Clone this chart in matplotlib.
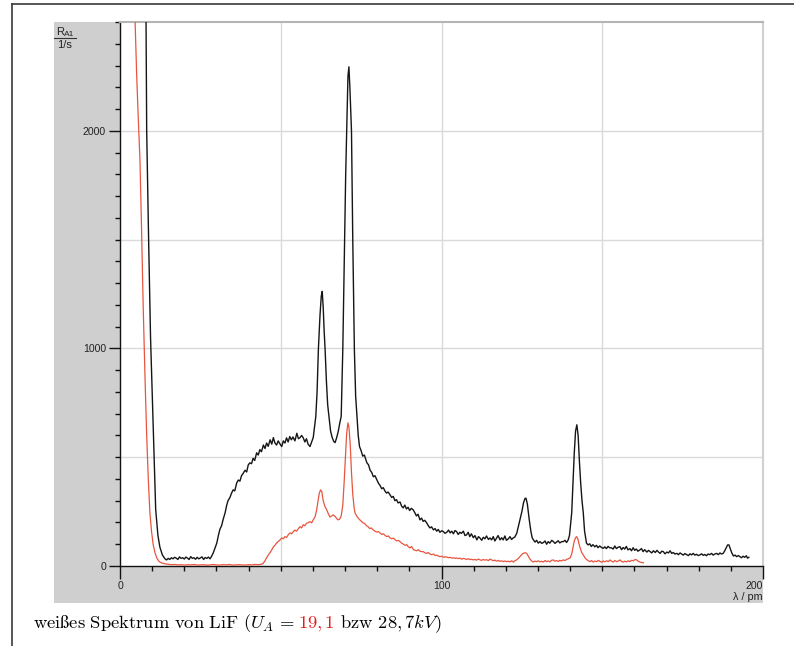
import matplotlib
matplotlib.use("Agg")
import matplotlib.pyplot as plt
from matplotlib.patches import Rectangle
from matplotlib.lines import Line2D
from matplotlib.ticker import MultipleLocator, FixedLocator

plt.rcParams['mathtext.fontset'] = 'cm'
plt.rcParams['font.family'] = ['Liberation Sans', 'DejaVu Sans']

# ---- data: 28.7 kV (black) ----
black_wl = [7.9, 8.1, 8.3, 8.9, 9.5, 9.9, 10.6, 11.1, 11.8, 12.4, 13.2, 14.0, 14.5, 15.0, 15.5, 16.0, 16.5, 17.0, 17.5, 18.0,
            18.5, 19.0, 19.5, 20.0, 20.5, 21.0, 21.5, 22.0, 22.5, 23.0, 23.5, 24.0, 24.5, 25.0, 25.5, 26.0, 26.5, 27.0, 27.5, 28.0,
            28.5, 29.0, 29.5, 30.1, 30.6, 31.1, 31.6, 32.1, 32.7, 33.2, 33.6, 34.2, 34.7, 35.2, 35.7, 36.3, 36.8, 37.3, 37.8, 38.4,
            38.9, 39.4, 39.9, 40.4, 40.9, 41.4, 41.9, 42.5, 43.0, 43.5, 44.0, 44.6, 45.1, 45.6, 46.1, 46.7, 47.2, 47.7, 48.2, 48.7,
            49.2, 49.8, 50.3, 50.8, 51.3, 51.8, 52.3, 52.8, 53.3, 53.8, 54.4, 55.0, 55.5, 56.0, 56.5, 57.0, 57.5, 58.0, 58.5, 59.1,
            59.6, 60.1, 60.5, 60.9, 61.3, 61.7, 62.2, 62.6, 62.9, 63.2, 63.5, 63.8, 64.2, 64.6, 65.0, 65.5, 66.0, 66.5, 66.9, 67.4,
            67.9, 68.4, 68.8, 69.3, 69.8, 70.2, 70.5, 70.9, 71.2, 71.5, 72.0, 72.4, 72.9, 73.3, 73.7, 74.1, 74.5, 75.0, 75.5, 76.0,
            76.8, 77.3, 77.8, 78.3, 78.8, 79.3, 79.9, 80.4, 80.9, 81.4, 81.9, 82.4, 82.9, 83.4, 84.0, 84.5, 85.0, 85.5, 86.0, 86.5,
            87.1, 87.6, 88.1, 88.6, 89.1, 89.6, 90.1, 90.6, 91.2, 91.7, 92.2, 92.7, 93.3, 93.8, 94.3, 94.8, 95.4, 95.9, 96.4, 96.9,
            97.5, 98.0, 98.5, 99.0, 99.5, 100.1, 100.6, 101.1, 101.7, 102.2, 102.7, 103.2, 103.7, 104.2, 104.7, 105.2, 105.7, 106.2, 106.8, 107.3,
            107.8, 108.3, 108.8, 109.3, 109.9, 110.4, 111.0, 111.5, 112.0, 112.5, 113.0, 113.5, 114.0, 114.6, 115.1, 115.6, 116.1, 116.6, 117.1, 117.6,
            118.2, 118.7, 119.2, 119.7, 120.2, 120.8, 121.3, 121.8, 122.3, 122.8, 123.4, 123.9, 124.4, 125.0, 125.5, 126.0, 126.3, 126.7, 127.3, 127.8,
            128.2, 128.6, 129.1, 129.6, 130.1, 130.6, 131.2, 131.7, 132.2, 132.7, 133.2, 133.7, 134.3, 134.8, 135.3, 135.8, 136.3, 136.8, 137.4, 137.9,
            138.4, 138.9, 139.4, 139.8, 140.2, 140.5, 140.9, 141.3, 141.7, 142.1, 142.5, 142.9, 143.3, 143.7, 144.1, 144.5, 145.1, 145.6, 146.1, 146.6,
            147.1, 147.7, 148.2, 148.7, 149.2, 149.7, 150.3, 150.8, 151.3, 151.8, 152.3, 152.9, 153.4, 153.9, 154.4, 154.9, 155.5, 156.0, 156.5, 157.0,
            157.5, 158.0, 158.6, 159.1, 159.6, 160.1, 160.6, 161.1, 161.7, 162.2, 162.7, 163.2, 163.9, 164.4, 164.9, 165.4, 165.9, 166.5, 167.0, 167.5,
            168.0, 168.5, 169.0, 169.5, 170.1, 170.6, 171.1, 171.6, 172.1, 172.6, 173.2, 173.7, 174.2, 174.7, 175.2, 175.7, 176.2, 176.8, 177.3, 177.8,
            178.3, 178.8, 179.3, 179.8, 180.4, 180.9, 181.4, 181.9, 182.4, 182.9, 183.4, 184.0, 184.5, 185.0, 185.6, 186.1, 186.6, 187.1, 187.6, 188.1,
            188.6, 189.0, 189.4, 189.8, 190.3, 190.8, 191.3, 191.8, 192.3, 192.8, 193.3, 193.8, 194.3, 194.8, 195.2, 195.6]
black_rate = [2900, 2500, 2000, 1500, 1050, 850, 500, 260, 140, 87, 50, 33, 28, 35, 30, 38, 33, 40, 36, 30,
              42, 35, 38, 32, 41, 36, 30, 43, 35, 38, 31, 40, 33, 37, 42, 30, 39, 35, 41, 33,
              45, 60, 80, 105, 140, 170, 185, 215, 245, 280, 300, 315, 335, 350, 345, 382, 395, 390, 415, 428,
              440, 432, 465, 474, 470, 495, 485, 520, 510, 535, 525, 556, 540, 565, 550, 580, 560, 590, 565, 556,
              575, 560, 549, 575, 565, 589, 570, 595, 580, 593, 575, 610, 585, 590, 600, 589, 570, 585, 560, 549,
              570, 590, 640, 687, 800, 994, 1150, 1240, 1262, 1190, 1080, 994, 850, 740, 687, 620, 590, 572, 567, 590,
              620, 660, 687, 994, 1450, 1800, 2000, 2250, 2294, 2200, 2000, 1500, 994, 780, 687, 600, 549, 530, 505, 510,
              474, 465, 440, 430, 410, 415, 396, 380, 370, 355, 360, 345, 335, 340, 327, 315, 320, 300, 305, 290,
              294, 275, 267, 280, 262, 270, 255, 265, 258, 245, 230, 238, 212, 220, 205, 210, 198, 185, 175, 180,
              166, 172, 160, 168, 155, 162, 158, 150, 156, 165, 152, 160, 148, 163, 158, 145, 155, 150, 160, 140,
              143, 155, 135, 148, 130, 140, 120, 135, 128, 118, 132, 125, 138, 122, 129, 120, 135, 115, 128, 140,
              120, 130, 120, 138, 118, 125, 135, 122, 129, 133, 150, 181, 212, 250, 290, 311, 311, 285, 212, 160,
              130, 120, 110, 118, 105, 112, 104, 108, 115, 100, 112, 105, 118, 112, 104, 110, 116, 106, 112, 112,
              118, 108, 120, 140, 200, 244, 380, 520, 620, 649, 600, 480, 380, 300, 244, 160, 105, 97, 102, 90,
              98, 88, 95, 84, 92, 86, 81, 88, 80, 90, 84, 83, 78, 92, 80, 86, 89, 75, 85, 78,
              90, 74, 80, 70, 84, 72, 78, 68, 74, 80, 66, 75, 64, 72, 66, 60, 70, 62, 72, 64,
              58, 68, 66, 56, 64, 60, 70, 58, 62, 55, 58, 52, 60, 55, 50, 57, 53, 48, 56, 51,
              58, 50, 54, 48, 51, 56, 49, 53, 47, 55, 52, 58, 50, 55, 58, 52, 60, 55, 58, 70,
              85, 97, 97, 80, 60, 46, 50, 43, 48, 43, 38, 45, 40, 47, 36, 40]

# ---- data: 19.1 kV (red) ----
red_wl = [4.5, 4.7, 5.2, 5.7, 6.2, 6.7, 7.2, 7.8, 8.3, 8.8, 9.3, 9.8, 10.3, 10.9, 11.5, 12.2, 13.0, 14.0, 15.0, 16.0,
          17.0, 18.0, 19.0, 20.0, 21.0, 22.0, 23.0, 24.0, 25.0, 26.0, 27.0, 28.0, 29.0, 30.0, 31.0, 32.0, 33.0, 34.0, 35.0, 36.0,
          37.0, 38.0, 39.0, 40.0, 41.0, 42.0, 43.0, 44.0, 44.5, 45.0, 45.6, 46.1, 46.6, 47.2, 47.7, 48.2, 48.7, 49.2, 49.8, 50.3,
          50.8, 51.3, 51.8, 52.4, 52.9, 53.4, 53.9, 54.4, 54.9, 55.5, 56.0, 56.5, 57.0, 57.5, 58.0, 58.6, 59.1, 59.6, 60.1, 60.7,
          61.2, 61.6, 62.0, 62.4, 62.8, 63.2, 63.7, 64.3, 64.8, 65.3, 65.8, 66.3, 66.9, 67.4, 67.8, 68.3, 68.8, 69.3, 69.7, 70.1,
          70.5, 70.9, 71.2, 71.6, 72.0, 72.4, 72.8, 73.1, 73.6, 74.1, 74.6, 75.1, 75.6, 76.1, 76.7, 77.2, 77.7, 78.2, 78.8, 79.3,
          79.9, 80.4, 80.9, 81.4, 81.9, 82.5, 83.0, 83.5, 84.0, 84.5, 85.1, 85.6, 86.1, 86.6, 87.1, 87.6, 88.2, 88.7, 89.2, 89.7,
          90.2, 90.7, 91.3, 91.8, 92.3, 92.8, 93.3, 93.8, 94.3, 94.9, 95.4, 95.9, 96.4, 96.9, 97.5, 98.0, 98.5, 99.0, 99.5, 100.1,
          100.6, 101.1, 101.7, 102.2, 102.7, 103.2, 103.7, 104.2, 104.7, 105.3, 105.8, 106.3, 106.8, 107.3, 107.8, 108.4, 108.9, 109.4, 109.9, 110.4,
          110.9, 111.5, 112.0, 112.5, 113.0, 113.5, 114.0, 114.6, 115.1, 115.6, 116.1, 116.6, 117.1, 117.7, 118.2, 118.7, 119.2, 119.7, 120.3, 120.8,
          121.3, 121.8, 122.4, 122.9, 123.4, 123.9, 124.4, 124.9, 125.4, 126.0, 126.5, 127.0, 127.5, 128.0, 128.5, 129.0, 129.6, 130.1, 130.6, 131.1,
          131.6, 132.2, 132.7, 133.2, 133.7, 134.2, 134.8, 135.3, 135.8, 136.3, 136.8, 137.3, 137.9, 138.4, 138.9, 139.4, 140.0, 140.5, 140.9, 141.3,
          141.7, 142.0, 142.4, 142.8, 143.2, 143.6, 144.1, 144.6, 145.1, 145.7, 146.2, 146.7, 147.2, 147.7, 148.3, 148.8, 149.3, 149.8, 150.3, 150.8,
          151.4, 151.9, 152.4, 152.9, 153.4, 153.9, 154.5, 155.0, 155.5, 156.0, 156.5, 157.0, 157.6, 158.1, 158.6, 159.1, 159.7, 160.2, 160.7, 161.2,
          161.7, 162.3, 162.8]
red_rate = [2700, 2500, 2250, 2050, 1870, 1550, 1200, 855, 600, 400, 244, 160, 100, 60, 35, 20, 14, 10, 8, 6,
            7, 5, 6, 4, 6, 5, 7, 4, 5, 6, 4, 5, 7, 5, 4, 6, 5, 7, 4, 5,
            6, 5, 4, 6, 5, 7, 6, 8, 12, 22, 37, 50, 60, 74, 88, 95, 106, 112, 120, 129,
            125, 135, 131, 145, 152, 148, 158, 165, 160, 172, 181, 175, 190, 185, 196, 200, 204, 198, 212, 227,
            260, 300, 335, 350, 340, 300, 275, 258, 240, 225, 230, 235, 228, 218, 212, 215, 230, 280, 380, 500,
            610, 658, 640, 560, 430, 330, 270, 244, 230, 220, 212, 205, 198, 195, 185, 180, 172, 175, 165, 160,
            156, 158, 152, 145, 148, 140, 135, 138, 129, 125, 128, 120, 115, 118, 112, 105, 100, 95, 98, 88,
            83, 90, 75, 72, 70, 75, 68, 66, 66, 60, 58, 62, 55, 52, 55, 48, 50, 46, 43, 45,
            40, 42, 41, 38, 40, 36, 38, 35, 37, 34, 36, 31, 35, 33, 30, 34, 29, 31, 28, 30,
            27, 32, 28, 26, 30, 27, 29, 25, 32, 28, 24, 27, 22, 26, 21, 24, 20, 23, 20, 22,
            19, 24, 18, 25, 28, 35, 43, 52, 58, 61, 58, 45, 32, 24, 18, 22, 20, 24, 19, 22,
            18, 25, 20, 23, 19, 26, 28, 22, 25, 21, 26, 23, 28, 25, 30, 33, 37, 55, 85, 115,
            130, 135, 125, 100, 80, 62, 51, 38, 30, 24, 20, 25, 18, 23, 20, 26, 21, 17, 23, 19,
            24, 20, 28, 22, 18, 25, 20, 23, 28, 21, 18, 22, 19, 24, 20, 26, 24, 30, 28, 22,
            18, 16, 15]

x_ticks = [0, 100, 200]
x_ticklabels = ["0", "100", "200"]
y_ticks = [0, 1000, 2000]
y_ticklabels = ["0", "1000", "2000"]

W, H = 794, 646
fig = plt.figure(figsize=(W / 100, H / 100), dpi=100)
fig.patch.set_facecolor('white')

def fx(px):
    return px / W

def fy(py):
    return (H - py) / H

# page frame lines
fig.add_artist(Line2D([fx(12), fx(12)], [fy(4), fy(646)], color='#3a3a3a', lw=1.2))
fig.add_artist(Line2D([fx(12), fx(794)], [fy(4), fy(4)], color='#3a3a3a', lw=1.2))

# grey panel
fig.add_artist(Rectangle((fx(54), fy(603)), fx(763) - fx(54), fy(22) - fy(603),
                         facecolor='#cfcfcf', edgecolor='none', zorder=0))

ax = fig.add_axes([fx(120), fy(566), fx(763) - fx(120), fy(22) - fy(566)])
ax.set_facecolor('white')
ax.set_xlim(0, 200)
ax.set_ylim(0, 2500)

ax.plot(red_wl, red_rate, color='#e8553f', lw=0.9, zorder=3)
ax.plot(black_wl, black_rate, color='#151515', lw=1.0, zorder=4)

# grid
for gx in [50, 100, 150]:
    ax.axvline(gx, color='#dadada', lw=1.0, zorder=1)
for gy in [500, 1000, 1500, 2000]:
    ax.axhline(gy, color='#dadada', lw=1.0, zorder=1)

ax.xaxis.set_major_locator(FixedLocator(x_ticks))
ax.set_xticklabels(x_ticklabels)
ax.yaxis.set_major_locator(FixedLocator(y_ticks))
ax.set_yticklabels(y_ticklabels)
ax.xaxis.set_minor_locator(MultipleLocator(10))
ax.yaxis.set_minor_locator(MultipleLocator(100))
ax.tick_params(axis='both', which='major', direction='out', length=9, width=1.0,
               color='#111111', labelsize=7.6, labelcolor='#222222', pad=2)
ax.tick_params(axis='both', which='minor', direction='out', length=3.5, width=1.0, color='#111111')
ax.tick_params(axis='y', which='major', length=8)
lbls = ax.get_xticklabels()
lbls[-1].set_horizontalalignment('right')

for s in ['left', 'bottom']:
    ax.spines[s].set_color('#111111')
    ax.spines[s].set_linewidth(1.0)
ax.spines['top'].set_color('#b4b4b4')
ax.spines['top'].set_linewidth(1.5)
ax.spines['right'].set_color('#d0d0d0')
ax.spines['right'].set_linewidth(1.5)

# y label (fraction)
fig.text(fx(56), fy(35), "R", fontsize=8.0, color='#222222', va='baseline', ha='left')
fig.text(fx(63.5), fy(36.5), "A1", fontsize=6.0, color='#222222', va='baseline', ha='left')
fig.add_artist(Line2D([fx(54), fx(76)], [fy(37.5), fy(37.5)], color='#333333', lw=0.8))
fig.text(fx(57), fy(48.5), "1/s", fontsize=8.0, color='#222222', va='baseline', ha='left')

# x label
fig.text(fx(763), fy(600.5), "λ / pm", fontsize=7.8, color='#222222', va='baseline', ha='right')

# caption
fig.canvas.draw()
r = fig.canvas.get_renderer()
pieces = [(r"$\mathrm{weißes\ Spektrum\ von\ LiF\ (}U_A\,=\,$", 'black'),
          (r"$19,1$", '#e02020'),
          (r"$\mathrm{\ bzw\ }28,7kV\mathrm{)}$", 'black')]
xc = fx(33)
FS = 13.35
for i, (s, c) in enumerate(pieces):
    t = fig.text(xc, fy(628), s, fontsize=FS, color=c, va='baseline', ha='left')
    bb = t.get_window_extent(renderer=r)
    xc = bb.x1 / fig.bbox.width + (fx(3) if i == 0 else 0)

fig.savefig("out.png", dpi=100)
